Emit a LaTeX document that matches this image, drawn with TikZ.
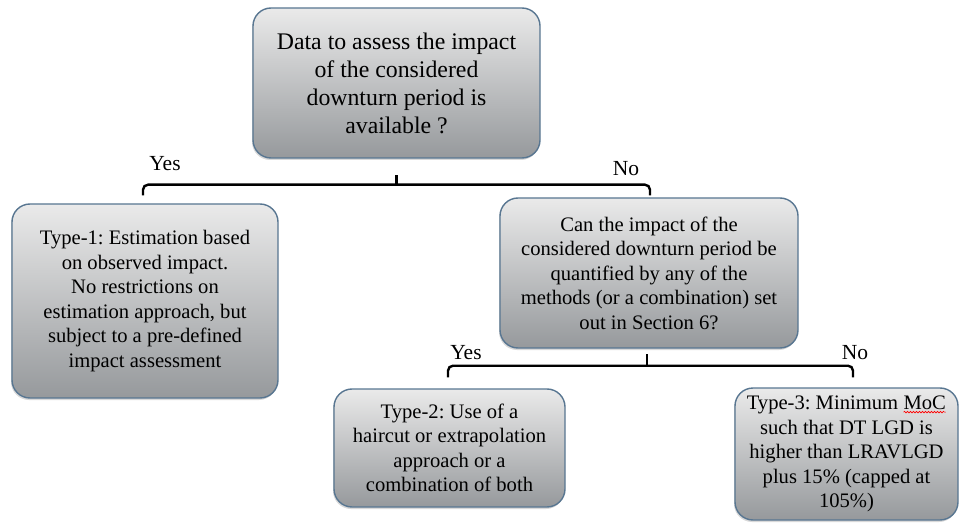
\documentclass[tikz,border=0pt]{standalone}
\usepackage{fontspec}
\setmainfont{Liberation Serif}
\usetikzlibrary{calc,shadows,decorations.pathmorphing}
\frenchspacing

\definecolor{boxline}{RGB}{88,118,145}
\definecolor{boxtop}{RGB}{234,234,234}
\definecolor{boxbot}{RGB}{150,153,156}

\newcommand{\redwave}[1]{\tikz[baseline=(w.base),x=1pt,y=1pt,sharp corners]{%
  \node[inner sep=0pt, outer sep=0pt, minimum width=0pt, minimum height=0pt, align=left] (w) {#1};
  \draw[red, line width=0.6pt, sharp corners, decorate, decoration={snake, amplitude=0.8pt, segment length=3pt}]
    ([yshift=-2.5pt]w.base west) -- ([yshift=-2.5pt]w.base east);}}

\tikzset{
  box/.style={draw=boxline, line width=1.4pt, rounded corners=18pt,
    top color=boxtop, bottom color=boxbot, align=center, inner sep=4pt,
    font=\fontsize{20.6}{24.5}\selectfont,
    drop shadow={shadow xshift=-1pt, shadow yshift=-2pt, opacity=0.3}},
  bracket/.style={line width=2.4pt, rounded corners=5pt},
  lbl/.style={font=\fontsize{21.5}{24}\selectfont, inner sep=0pt},
}

\begin{document}
\begin{tikzpicture}[x=1pt,y=-1pt]
  \useasboundingbox (0,0) rectangle (962,524);
  \node[box, minimum width=287pt, minimum height=150pt, font=\fontsize{23.8}{28}\selectfont] (q1) at (396.5,83)
    {Data to assess the impact\\ of the considered\\ downturn period is\\ available ?};
  \node[box, minimum width=266pt, minimum height=194pt] at ($(q1) + (-251.5,218)$) (t1)
    {Type-1: Estimation based\\ on observed impact.\\ No restrictions on\\ estimation approach, but\\ subject to a pre-defined\\ impact assessment};
  \node[box, minimum width=298pt, minimum height=150pt] at ($(q1) + (252.5,190)$) (q2)
    {Can the impact of the\\ considered downturn period be\\ quantified by any of the\\ methods (or a combination) set\\ out in Section 6?};
  \node[box, minimum width=231pt, minimum height=118pt] at ($(q2) + (-199.5,175)$) (t2)
    {Type-2: Use of a\\ haircut or extrapolation\\ approach or a\\ combination of both};
  \node[box, minimum width=223pt, minimum height=132pt] at ($(q2) + (197.5,181)$) (t3)
    {Type-3: Minimum \redwave{MoC}\\ such that DT LGD is\\ higher than LRAVLGD\\ plus 15\% (capped at\\ 105\%)};

  % first split
  \coordinate (b1) at ($(q1.south)+(0,26)$);
  \coordinate (b1l) at ($(t1.north)+(-2,-8)$);
  \coordinate (b1r) at ($(q2.north)+(1,-2)$);
  \draw[bracket] (b1l) |- (b1) -| (b1r);
  \draw[bracket] (b1) -- ++(0,-10);
  \node[lbl] (y1) at ($(b1l |- b1)+(22,-21)$) {Yes};
  \node[lbl] (n1) at ($(b1r |- b1)+(-24,-16)$) {No};

  % second split
  \coordinate (b2) at ($(q2.south)+(-2,17)$);
  \coordinate (b2l) at ($(t2.north)+(-1.5,-11)$);
  \coordinate (b2r) at ($(t3.north)+(6.5,-10)$);
  \draw[bracket] (b2l) |- (b2) -| (b2r);
  \draw[bracket] (b2) -- ++(0,-12);
  \node[lbl] (y2) at ($(b2l |- b2)+(18,-13)$) {Yes};
  \node[lbl] (n2) at ($(b2r |- b2)+(2,-13)$) {No};
\end{tikzpicture}
\end{document}
